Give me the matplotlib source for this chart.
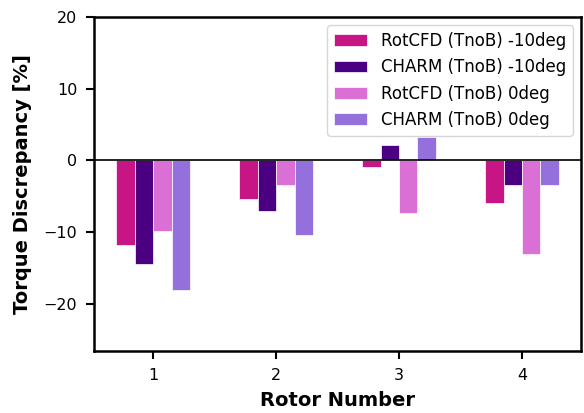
import numpy as np
import matplotlib
matplotlib.use('Agg')
import matplotlib.pyplot as plt

rotors = [1, 2, 3, 4]
rotcfd_m10 = [-11.8, -5.4, -0.9, -6.0]
charm_m10 = [-14.4, -7.0, 2.2, -3.4]
rotcfd_0 = [-9.8, -3.4, -7.4, -13.0]
charm_0 = [-18.1, -10.4, 3.3, -3.5]

labels = ['RotCFD (TnoB) -10deg', 'CHARM (TnoB) -10deg',
          'RotCFD (TnoB) 0deg', 'CHARM (TnoB) 0deg']
colors = ['mediumvioletred', 'indigo', 'orchid', 'mediumpurple']
series = [rotcfd_m10, charm_m10, rotcfd_0, charm_0]

fig, ax = plt.subplots(figsize=(5.84, 4.13), dpi=100)
fig.subplots_adjust(left=0.161, right=0.995, top=0.959, bottom=0.150)

w = 0.15
x = np.array(rotors, dtype=float)
for i, (vals, lab, c) in enumerate(zip(series, labels, colors)):
    ax.bar(x + (i - 1.5) * w, vals, w, color=c, label=lab,
           edgecolor='white', linewidth=0.5)

ax.axhline(0, color='black', linewidth=1.2)
ax.set_ylim(-26.6, 20)
ax.set_xticks(rotors)
ax.tick_params(labelsize=11.5, width=1.5, length=6, pad=6)
for s in ax.spines.values():
    s.set_linewidth(1.8)
ax.set_xlabel('Rotor Number', fontsize=14, fontweight='bold', labelpad=6)
ax.set_ylabel('Torque Discrepancy [%]', fontsize=14, fontweight='bold', labelpad=8)
ax.legend(loc='upper right', fontsize=12)

plt.savefig('out.png')
